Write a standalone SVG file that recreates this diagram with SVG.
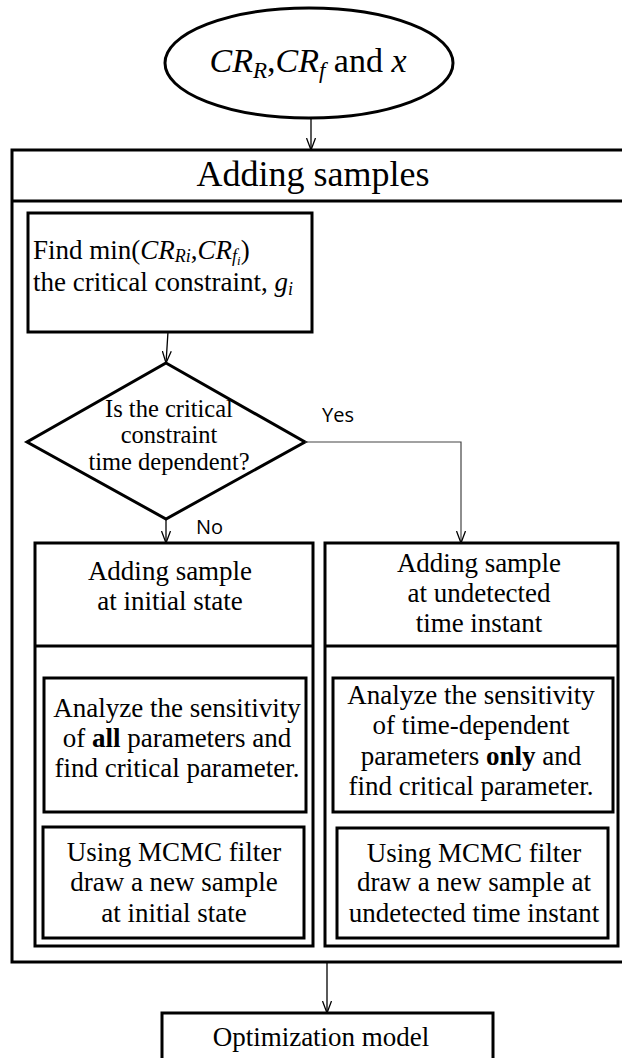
<svg xmlns="http://www.w3.org/2000/svg" width="622" height="1058" viewBox="0 0 622 1058">
  <style>
    .box { fill: #ffffff; stroke: #000000; stroke-width: 3; }
    .frame { fill: none; stroke: #000000; stroke-width: 3; }
    .link { fill: none; stroke: #000000; stroke-width: 1.3; }
    .link-grey { fill: none; stroke: #444444; stroke-width: 1.2; }
    .serif { font-family: "Liberation Serif", "Times New Roman", serif; fill: #000000; }
    .t27 { font-size: 27px; }
    .t24 { font-size: 24.5px; }
    .mid { text-anchor: middle; }
    .label { font-family: "Open Sans", "Liberation Sans", sans-serif; font-size: 20px; fill: #000000; }
    .it { font-style: italic; }
    .b { font-weight: bold; }
  </style>
  <defs>
    <marker id="arrow" viewBox="0 0 12 10" refX="12" refY="5" markerWidth="12" markerHeight="10" markerUnits="userSpaceOnUse" orient="auto">
      <path d="M0,0.5 L12,5 L0,9.5" fill="none" stroke="#000000" stroke-width="1.3"/>
    </marker>
  </defs>

  <rect width="622" height="1058" fill="#ffffff"/>

  <!-- input ellipse -->
  <g id="inputs">
    <ellipse class="box" cx="309" cy="63" rx="144" ry="55"/>
    <text class="serif mid" x="308" y="72" font-size="34"><tspan class="it">CR</tspan><tspan class="it" font-size="23" dy="6">R</tspan><tspan dy="-6">,</tspan><tspan class="it">CR</tspan><tspan class="it" font-size="23" dy="6">f</tspan><tspan dy="-6"> and </tspan><tspan class="it">x</tspan></text>
  </g>

  <!-- outer container -->
  <g id="adding-samples">
    <rect class="frame" x="12" y="150" width="630" height="812"/>
    <line class="frame" x1="12" y1="201" x2="642" y2="201"/>
    <text class="serif mid" x="313" y="186" font-size="36">Adding samples</text>
  </g>

  <g id="find-critical">
    <rect class="box" x="28" y="213" width="284" height="119"/>
    <text class="serif t27" x="33" y="259">Find min(<tspan class="it">CR</tspan><tspan class="it" font-size="18" dy="3">Ri</tspan><tspan dy="-3">,</tspan><tspan class="it">CR</tspan><tspan class="it" font-size="18" dy="3">f</tspan><tspan class="it" font-size="13" dy="3">i</tspan><tspan dy="-6">)</tspan></text>
    <text class="serif t27" x="33" y="291">the critical constraint, <tspan class="it">g</tspan><tspan class="it" font-size="18" dy="4">i</tspan></text>
  </g>

  <g id="decision">
    <polygon class="box" points="166,363 305,442 166,519 27,442"/>
    <text class="serif t24 mid" x="169" y="417">Is the critical</text>
    <text class="serif t24 mid" x="169" y="443">constraint</text>
    <text class="serif t24 mid" x="169" y="470">time dependent?</text>
  </g>

  <g id="initial-state">
    <rect class="box" x="35" y="543" width="278" height="403"/>
    <line class="frame" x1="35" y1="646" x2="313" y2="646"/>
    <text class="serif t27 mid" x="170" y="580">Adding sample</text>
    <text class="serif t27 mid" x="170" y="610">at initial state</text>
  </g>

  <g id="initial-sensitivity">
    <rect class="box" x="44" y="678" width="262" height="134"/>
    <text class="serif t27 mid" x="177" y="717">Analyze the sensitivity</text>
    <text class="serif t27 mid" x="177" y="747">of <tspan class="b">all</tspan> parameters and</text>
    <text class="serif t27 mid" x="177" y="777">find critical parameter.</text>
  </g>

  <g id="initial-mcmc">
    <rect class="box" x="43" y="827" width="261" height="111"/>
    <text class="serif t27 mid" x="174" y="861">Using MCMC filter</text>
    <text class="serif t27 mid" x="174" y="891">draw a new sample</text>
    <text class="serif t27 mid" x="174" y="922">at initial state</text>
  </g>

  <g id="undetected-instant">
    <rect class="box" x="325" y="543" width="293" height="403"/>
    <line class="frame" x1="325" y1="646" x2="618" y2="646"/>
    <text class="serif t27 mid" x="479" y="572">Adding sample</text>
    <text class="serif t27 mid" x="479" y="602">at undetected</text>
    <text class="serif t27 mid" x="479" y="632">time instant</text>
  </g>

  <g id="undetected-sensitivity">
    <rect class="box" x="333" y="678" width="280" height="134"/>
    <text class="serif t27 mid" x="471" y="704">Analyze the sensitivity</text>
    <text class="serif t27 mid" x="471" y="734">of time-dependent</text>
    <text class="serif t27 mid" x="471" y="765">parameters <tspan class="b">only</tspan> and</text>
    <text class="serif t27 mid" x="471" y="795">find critical parameter.</text>
  </g>

  <g id="undetected-mcmc">
    <rect class="box" x="337" y="828" width="271" height="110"/>
    <text class="serif t27 mid" x="474" y="862">Using MCMC filter</text>
    <text class="serif t27 mid" x="474" y="891">draw a new sample at</text>
    <text class="serif t27 mid" x="474" y="922">undetected time instant</text>
  </g>

  <g id="optimization">
    <rect class="box" x="162" y="1013" width="331" height="70"/>
    <text class="serif t27 mid" x="321" y="1046">Optimization model</text>
  </g>

  <!-- connectors -->
  <g id="connectors">
    <line class="link" x1="311" y1="118" x2="311" y2="150" marker-end="url(#arrow)"/>
    <line class="link" x1="168" y1="332" x2="166" y2="363" marker-end="url(#arrow)"/>
    <line class="link" x1="166" y1="519" x2="166" y2="543" marker-end="url(#arrow)"/>
    <polyline class="link-grey" points="305,442 461,442 461,543" marker-end="url(#arrow)"/>
    <line class="link" x1="327" y1="962" x2="327" y2="1013" marker-end="url(#arrow)"/>
    <text class="label" x="322" y="422">Yes</text>
    <text class="label" x="196" y="534">No</text>
  </g>
</svg>
